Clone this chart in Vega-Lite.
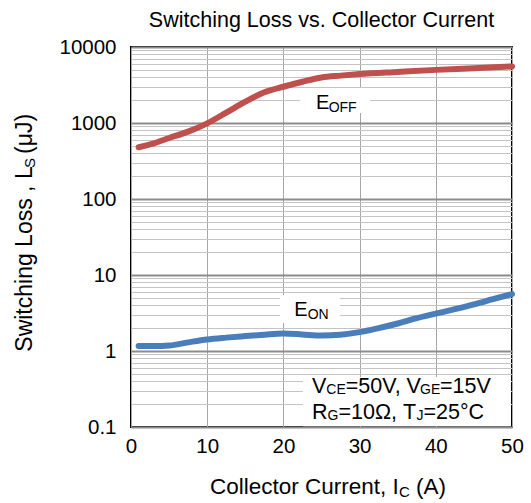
{
  "$schema": "https://vega.github.io/schema/vega-lite/v6.json",
  "width": 381,
  "height": 380,
  "autosize": "none",
  "padding": {"left": 131, "top": 47, "right": 19, "bottom": 76},
  "background": "white",
  "config": {"font": "Liberation Sans", "view": {"stroke": "#000", "strokeWidth": 2}},
  "title": {"text": "Switching Loss vs. Collector Current", "fontSize": 21.5, "fontWeight": "normal", "color": "#000", "anchor": "middle", "baseline": "alphabetic", "offset": 20, "dy": 31},
  "datasets": {
    "curves": [
      {"s": "EOFF", "x": 1, "y": 480}, {"s": "EOFF", "x": 3, "y": 541}, {"s": "EOFF", "x": 5, "y": 635},
      {"s": "EOFF", "x": 7.5, "y": 770}, {"s": "EOFF", "x": 10, "y": 990}, {"s": "EOFF", "x": 12.5, "y": 1367},
      {"s": "EOFF", "x": 15, "y": 1906}, {"s": "EOFF", "x": 17.5, "y": 2535}, {"s": "EOFF", "x": 20, "y": 3000},
      {"s": "EOFF", "x": 22.5, "y": 3490}, {"s": "EOFF", "x": 25, "y": 3970}, {"s": "EOFF", "x": 27.5, "y": 4200},
      {"s": "EOFF", "x": 30, "y": 4400}, {"s": "EOFF", "x": 35, "y": 4700}, {"s": "EOFF", "x": 40, "y": 5000},
      {"s": "EOFF", "x": 45, "y": 5250}, {"s": "EOFF", "x": 50, "y": 5550},
      {"s": "EON", "x": 1, "y": 1.16}, {"s": "EON", "x": 3, "y": 1.16}, {"s": "EON", "x": 5, "y": 1.18},
      {"s": "EON", "x": 7.5, "y": 1.3}, {"s": "EON", "x": 10, "y": 1.42}, {"s": "EON", "x": 12.5, "y": 1.5},
      {"s": "EON", "x": 15, "y": 1.57}, {"s": "EON", "x": 17.5, "y": 1.64}, {"s": "EON", "x": 20, "y": 1.7},
      {"s": "EON", "x": 22.5, "y": 1.65}, {"s": "EON", "x": 25, "y": 1.6}, {"s": "EON", "x": 27.5, "y": 1.64},
      {"s": "EON", "x": 30, "y": 1.77}, {"s": "EON", "x": 32.5, "y": 2.0}, {"s": "EON", "x": 35, "y": 2.3},
      {"s": "EON", "x": 37.5, "y": 2.7}, {"s": "EON", "x": 40, "y": 3.1}, {"s": "EON", "x": 42.5, "y": 3.55},
      {"s": "EON", "x": 45, "y": 4.1}, {"s": "EON", "x": 47.5, "y": 4.8}, {"s": "EON", "x": 50, "y": 5.6}
    ],
    "boxes": [
      {"x": 22.18, "x2": 31.36, "y": 2890, "y2": 1355},
      {"x": 19.55, "x2": 27.43, "y": 5.46, "y2": 2.34},
      {"x": 22.57, "x2": 49.85, "y": 0.455, "y2": 0.1025}
    ],
    "texts": [
      {"g": "curve", "r": "main", "x": 24.28, "y": 1514, "t": "E"},
      {"g": "curve", "r": "sub", "x": 25.94, "y": 1514, "t": "OFF"},
      {"g": "curve", "r": "main", "x": 21.43, "y": 2.887, "t": "E"},
      {"g": "curve", "r": "sub", "x": 23.18, "y": 2.887, "t": "ON"},
      {"g": "note", "r": "main", "x": 23.75, "y": 0.2802, "t": "V"},
      {"g": "note", "r": "sub", "x": 25.63, "y": 0.2802, "t": "CE"},
      {"g": "note", "r": "main", "x": 28.19, "y": 0.2802, "t": "=50V, V"},
      {"g": "note", "r": "sub", "x": 37.93, "y": 0.2802, "t": "GE"},
      {"g": "note", "r": "main", "x": 40.55, "y": 0.2802, "t": "=15V"},
      {"g": "note", "r": "main", "x": 23.75, "y": 0.1286, "t": "R"},
      {"g": "note", "r": "sub", "x": 25.79, "y": 0.1286, "t": "G"},
      {"g": "note", "r": "main", "x": 27.22, "y": 0.1286, "t": "=10Ω, T"},
      {"g": "note", "r": "sub", "x": 37.47, "y": 0.1286, "t": "J"},
      {"g": "note", "r": "main", "x": 38.39, "y": 0.1286, "t": "=25°C"},
      {"g": "xt", "r": "main", "x": 10.37, "y": 0.01313, "t": "Collector Current, I"},
      {"g": "xt", "r": "sub", "x": 35.17, "y": 0.01313, "t": "C"},
      {"g": "xt", "r": "main", "x": 37.4, "y": 0.01313, "t": "(A)"},
      {"g": "yt", "r": "main", "x": -12.99, "y": 0.979, "t": "Switching Loss , L"},
      {"g": "yt", "r": "sub", "x": -12.99, "y": 255.9, "t": "S"},
      {"g": "yt", "r": "main", "x": -12.99, "y": 391, "t": "(μJ)"}
    ]
  },
  "layer": [
    {
      "data": {"name": "boxes"},
      "mark": {"type": "rect", "fill": "white", "stroke": null},
      "encoding": {
        "x": {"field": "x", "type": "quantitative", "title": null, "scale": {"type": "linear", "domain": [0, 50], "nice": false, "zero": false}},
        "x2": {"field": "x2"},
        "y": {"field": "y", "type": "quantitative", "title": null, "scale": {"type": "log", "domain": [0.1, 10000], "nice": false}},
        "y2": {"field": "y2"}
      }
    },
    {
      "data": {"name": "curves"},
      "mark": {"type": "line", "interpolate": "monotone", "strokeWidth": 6, "strokeCap": "round", "strokeJoin": "round"},
      "encoding": {
        "x": {
          "field": "x", "type": "quantitative", "title": null,
          "scale": {"type": "linear", "domain": [0, 50], "nice": false, "zero": false},
          "axis": {"values": [0, 10, 20, 30, 40, 50], "grid": true, "gridColor": "#a6a6a6", "gridWidth": 1, "ticks": false, "domain": false, "labelFontSize": 20.5, "labelColor": "#000", "labelPadding": 9, "labelFont": "Liberation Sans", "labelFlush": false}
        },
        "y": {
          "field": "y", "type": "quantitative", "title": null,
          "scale": {"type": "log", "domain": [0.1, 10000], "nice": false},
          "axis": {
            "values": [0.1, 0.2, 0.3, 0.4, 0.5, 0.6, 0.7, 0.8, 0.9, 1, 2, 3, 4, 5, 6, 7, 8, 9, 10, 20, 30, 40, 50, 60, 70, 80, 90, 100, 200, 300, 400, 500, 600, 700, 800, 900, 1000, 2000, 3000, 4000, 5000, 6000, 7000, 8000, 9000, 10000],
            "grid": true,
            "gridColor": {"condition": {"test": "abs(log(datum.value)/LN10 - round(log(datum.value)/LN10)) < 0.000001", "value": "#8c8c8c"}, "value": "#c4c4c4"},
            "gridWidth": {"condition": {"test": "abs(log(datum.value)/LN10 - round(log(datum.value)/LN10)) < 0.000001", "value": 2}, "value": 1},
            "ticks": false, "domain": false, "labelFontSize": 20.5, "labelColor": "#000", "labelPadding": 15, "labelFont": "Liberation Sans", "labelFlush": false, "labelOverlap": false,
            "labelExpr": "abs(log(datum.value)/LN10 - round(log(datum.value)/LN10)) < 0.000001 ? (datum.value < 1 ? '0.1' : format(datum.value, 'd')) : ''"
          }
        },
        "color": {"field": "s", "type": "nominal", "legend": null, "scale": {"domain": ["EOFF", "EON"], "range": ["#c0504d", "#4a7ebb"]}}
      }
    },
    {
      "data": {"name": "texts"},
      "transform": [{"filter": "datum.g == 'curve' && datum.r == 'main'"}],
      "mark": {"type": "text", "align": "left", "baseline": "alphabetic", "fontSize": 20, "color": "#000"},
      "encoding": {"x": {"field": "x", "type": "quantitative", "title": null}, "y": {"field": "y", "type": "quantitative", "title": null}, "text": {"field": "t"}}
    },
    {
      "data": {"name": "texts"},
      "transform": [{"filter": "datum.g == 'curve' && datum.r == 'sub'"}],
      "mark": {"type": "text", "align": "left", "baseline": "alphabetic", "fontSize": 14, "dy": 3, "color": "#000"},
      "encoding": {"x": {"field": "x", "type": "quantitative", "title": null}, "y": {"field": "y", "type": "quantitative", "title": null}, "text": {"field": "t"}}
    },
    {
      "data": {"name": "texts"},
      "transform": [{"filter": "datum.g == 'note' && datum.r == 'main'"}],
      "mark": {"type": "text", "align": "left", "baseline": "alphabetic", "fontSize": 21.5, "color": "#000"},
      "encoding": {"x": {"field": "x", "type": "quantitative", "title": null}, "y": {"field": "y", "type": "quantitative", "title": null}, "text": {"field": "t"}}
    },
    {
      "data": {"name": "texts"},
      "transform": [{"filter": "datum.g == 'note' && datum.r == 'sub'"}],
      "mark": {"type": "text", "align": "left", "baseline": "alphabetic", "fontSize": 14, "dy": 1, "color": "#000"},
      "encoding": {"x": {"field": "x", "type": "quantitative", "title": null}, "y": {"field": "y", "type": "quantitative", "title": null}, "text": {"field": "t"}}
    },
    {
      "data": {"name": "texts"},
      "transform": [{"filter": "datum.g == 'xt' && datum.r == 'main'"}],
      "mark": {"type": "text", "align": "left", "baseline": "alphabetic", "fontSize": 22.5, "color": "#000"},
      "encoding": {"x": {"field": "x", "type": "quantitative", "title": null}, "y": {"field": "y", "type": "quantitative", "title": null}, "text": {"field": "t"}}
    },
    {
      "data": {"name": "texts"},
      "transform": [{"filter": "datum.g == 'xt' && datum.r == 'sub'"}],
      "mark": {"type": "text", "align": "left", "baseline": "alphabetic", "fontSize": 15, "dy": 3, "color": "#000"},
      "encoding": {"x": {"field": "x", "type": "quantitative", "title": null}, "y": {"field": "y", "type": "quantitative", "title": null}, "text": {"field": "t"}}
    },
    {
      "data": {"name": "texts"},
      "transform": [{"filter": "datum.g == 'yt' && datum.r == 'main'"}],
      "mark": {"type": "text", "align": "left", "baseline": "alphabetic", "fontSize": 23, "angle": 270, "color": "#000"},
      "encoding": {"x": {"field": "x", "type": "quantitative", "title": null}, "y": {"field": "y", "type": "quantitative", "title": null}, "text": {"field": "t"}}
    },
    {
      "data": {"name": "texts"},
      "transform": [{"filter": "datum.g == 'yt' && datum.r == 'sub'"}],
      "mark": {"type": "text", "align": "left", "baseline": "alphabetic", "fontSize": 15, "angle": 270, "dy": 3, "color": "#000"},
      "encoding": {"x": {"field": "x", "type": "quantitative", "title": null}, "y": {"field": "y", "type": "quantitative", "title": null}, "text": {"field": "t"}}
    }
  ]
}
